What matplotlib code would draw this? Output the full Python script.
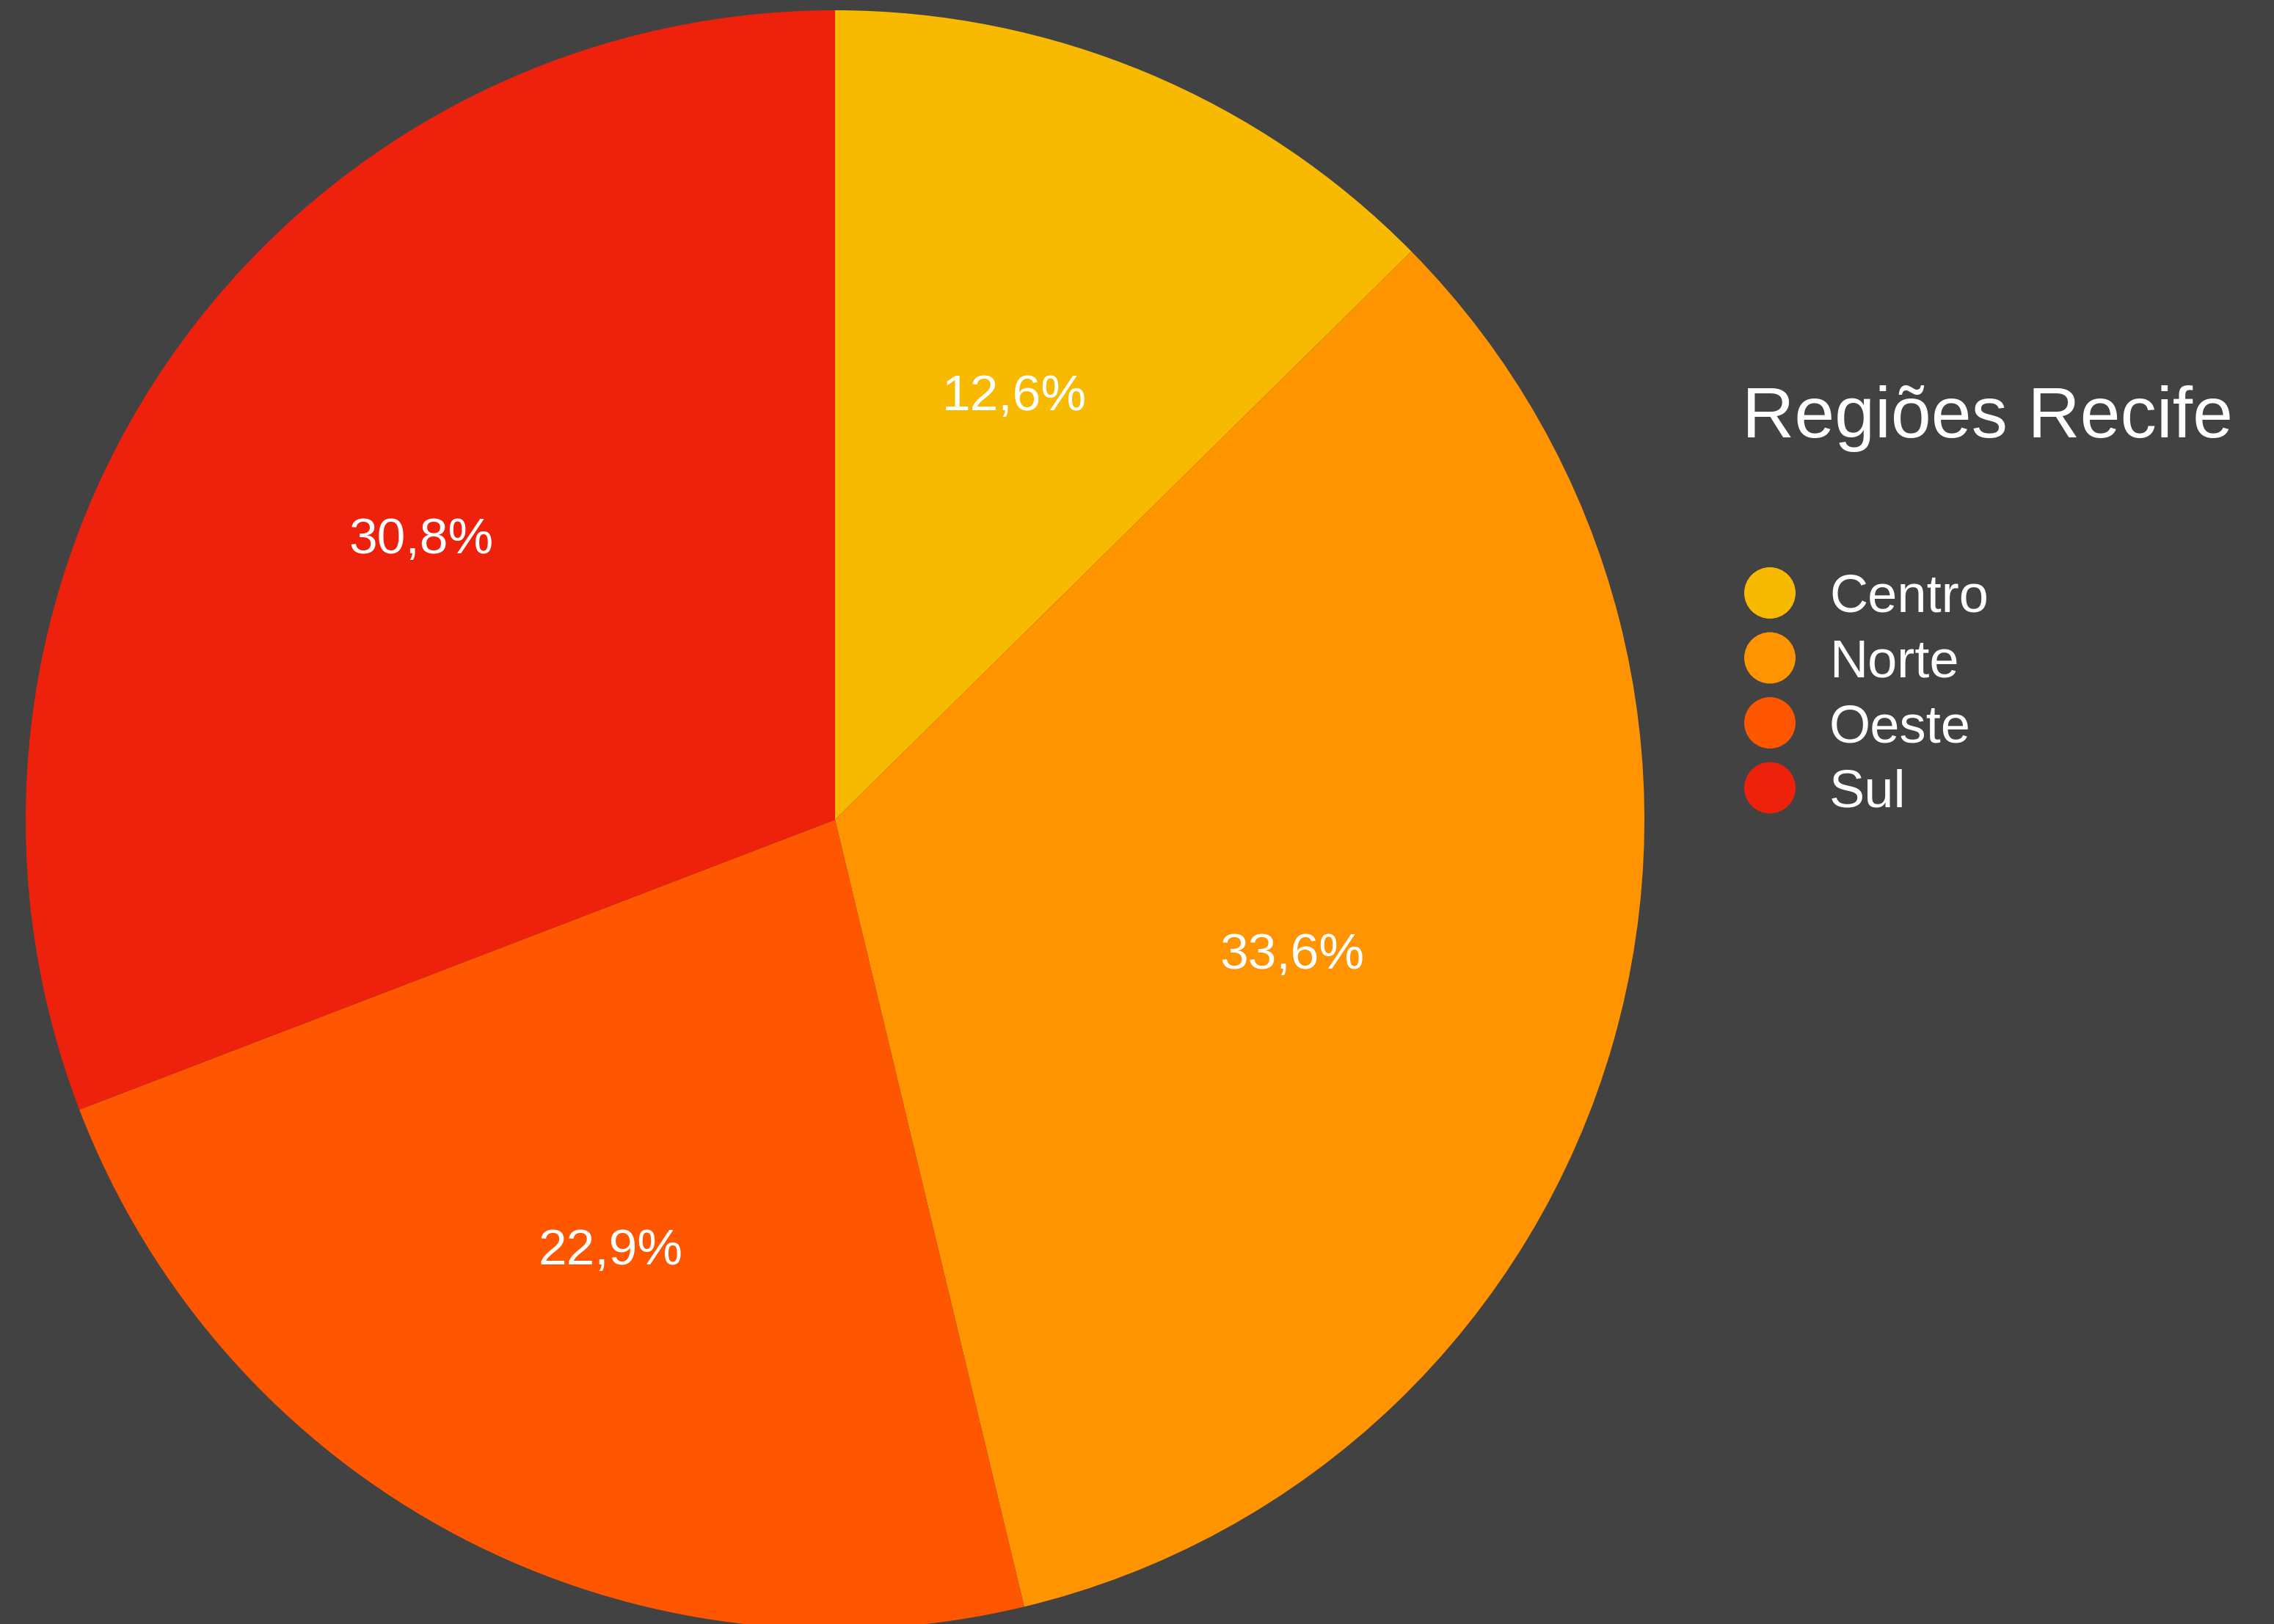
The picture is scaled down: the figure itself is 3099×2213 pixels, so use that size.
import numpy as np
import matplotlib.pyplot as plt
from matplotlib.patches import Circle

regioes = ['Centro', 'Norte', 'Oeste', 'Sul']
percentuais = [12.6, 33.6, 22.9, 30.8]
cores = ['#F8BA00', '#FF9300', '#FF5600', '#EE220C']
titulo = 'Regiões Recife'

fundo = '#424242'
W, H = 3099, 2213
plt.rcParams['font.family'] = ['Liberation Sans', 'DejaVu Sans']

fig = plt.figure(figsize=(W / 100, H / 100), dpi=100, facecolor=fundo)

# pie: centre (1138, 1117) px, radius 1103 px
cx, cy, r = 1138, 1117, 1103
ax = fig.add_axes([(cx - r) / W, (H - cy - r) / H, 2 * r / W, 2 * r / H])
ax.set_facecolor(fundo)
wedges, textos, autotextos = ax.pie(
    percentuais, colors=cores, startangle=90, counterclock=False,
    radius=1,
    autopct=lambda p: ('%.1f%%' % p).replace('.', ','),
    wedgeprops=dict(linewidth=0),
    textprops=dict(color='white', fontsize=50))
ax.set_xlim(-1, 1)
ax.set_ylim(-1, 1)
ax.set_aspect('equal')
ax.axis('off')

# labels sit a little further out on the wider wedges
dist_rotulo = [0.573, 0.587, 0.595, 0.621]
meia_altura = 25 / r
for w, t, d in zip(wedges, autotextos, dist_rotulo):
    ang = np.deg2rad((w.theta1 + w.theta2) / 2)
    t.set_position((d * np.cos(ang), d * np.sin(ang) - meia_altura))
    t.set_va('baseline')

# legend drawn by hand in pixel coordinates
fig.text(2374 / W, 1 - 596 / H, titulo, color='white', fontsize=71,
         ha='left', va='baseline')
for i, (nome, cor) in enumerate(zip(regioes, cores)):
    y = 808 + i * 88.5
    fig.patches.append(Circle((2412, H - y), 35, transform=None,
                              facecolor=cor, edgecolor='none'))
    fig.text(2493 / W, 1 - (y + 26) / H, nome, color='white', fontsize=52,
             ha='left', va='baseline')

fig.savefig('out.png', dpi=100, facecolor=fundo)
